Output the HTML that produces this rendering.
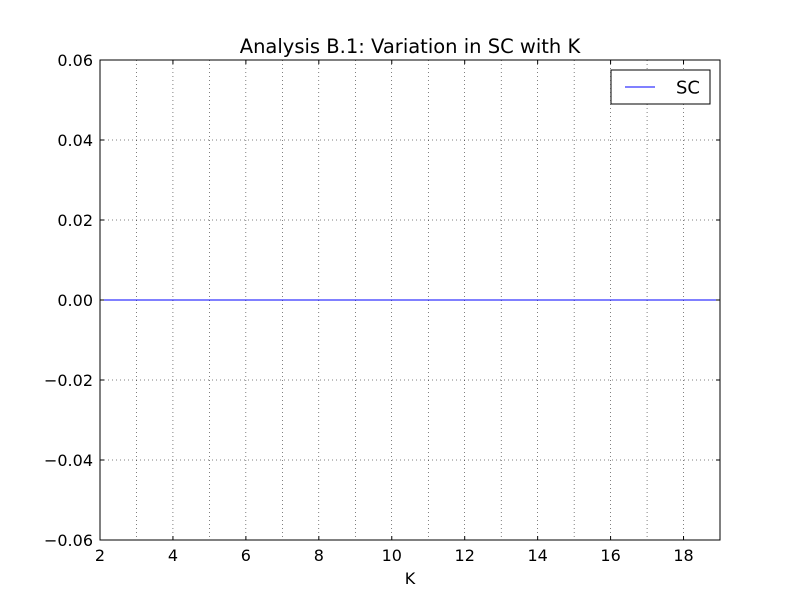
<!DOCTYPE html>
<html><head><meta charset="utf-8"><style>
html,body{margin:0;padding:0;background:#fff;}
svg text{font-family:"DejaVu Sans","Liberation Sans",sans-serif;}
</style></head><body>
<svg id="chart" width="800" height="600" viewBox="0 0 800 600">
<rect x="0" y="0" width="800" height="600" fill="#fff"/>
<g id="grid"></g>
<g id="series"></g>
<rect x="100" y="60" width="620" height="480" fill="none" stroke="#000" stroke-width="1"/>
<g id="ticks"></g>
<text x="410" y="53" text-anchor="middle" font-size="19.5">Analysis B.1: Variation in SC with K</text>
<text x="410" y="584" text-anchor="middle" font-size="16">K</text>
<g>
<rect x="611" y="70" width="99" height="34" fill="#fff" stroke="#000" stroke-width="1"/>
<line x1="625" y1="87" x2="655" y2="87" stroke="#0000ff" stroke-width="1"/>
<text x="676" y="93.5" font-size="18">SC</text>
</g>
</svg>
<script>
const kValues = [2,3,4,5,6,7,8,9,10,11,12,13,14,15,16,17,18,19];
const scValues = [0,0,0,0,0,0,0,0,0,0,0,0,0,0,0,0,0,0];
const xTickLabels = [2,4,6,8,10,12,14,16,18];
const yTickLabels = [-0.06,-0.04,-0.02,0.00,0.02,0.04,0.06];
const NS='http://www.w3.org/2000/svg';
const L=100,R=720,T=60,B=540,xmin=2,xmax=19,ymin=-0.06,ymax=0.06;
const xs=v=>L+(v-xmin)/(xmax-xmin)*(R-L);
const ys=v=>B-(v-ymin)/(ymax-ymin)*(B-T);
function mk(tag,attrs,parent){const e=document.createElementNS(NS,tag);for(const k in attrs)e.setAttribute(k,attrs[k]);document.getElementById(parent).appendChild(e);return e;}
for(let k=3;k<19;k++){
 const g=mk('line',{x1:xs(k),x2:xs(k),y1:T,y2:B,stroke:'#000','stroke-width':0.5,'stroke-dasharray':'1,3'},'grid');
 
 
}
yTickLabels.forEach(v=>{
 if(v===ymin||v===ymax)return;
 const g=mk('line',{x1:L,x2:R,y1:ys(v),y2:ys(v),stroke:'#000','stroke-width':0.5,'stroke-dasharray':'1,3'},'grid');
 
 
});
xTickLabels.forEach(v=>{
 const x=xs(v);
 mk('line',{x1:x,x2:x,y1:B,y2:B-4,stroke:'#000'},'ticks');
 mk('line',{x1:x,x2:x,y1:T,y2:T+4,stroke:'#000'},'ticks');
 const t=mk('text',{x:x,y:B+21,'text-anchor':'middle','font-size':16},'ticks');
 t.textContent=v;
 
 
});
yTickLabels.forEach(v=>{
 const y=ys(v);
 mk('line',{x1:L,x2:L+4,y1:y,y2:y,stroke:'#000'},'ticks');
 mk('line',{x1:R,x2:R-4,y1:y,y2:y,stroke:'#000'},'ticks');
 const t=mk('text',{x:L-7,y:y+6,'text-anchor':'end','font-size':16},'ticks');
 t.textContent=(v<0?'\u2212':'')+Math.abs(v).toFixed(2);
 
 
});
const pts=kValues.map((k,i)=>xs(k)+','+ys(scValues[i])).join(' ');
const line=mk('polyline',{points:pts,fill:'none',stroke:'#0000ff','stroke-width':1},'series');


</script>
</body></html>
